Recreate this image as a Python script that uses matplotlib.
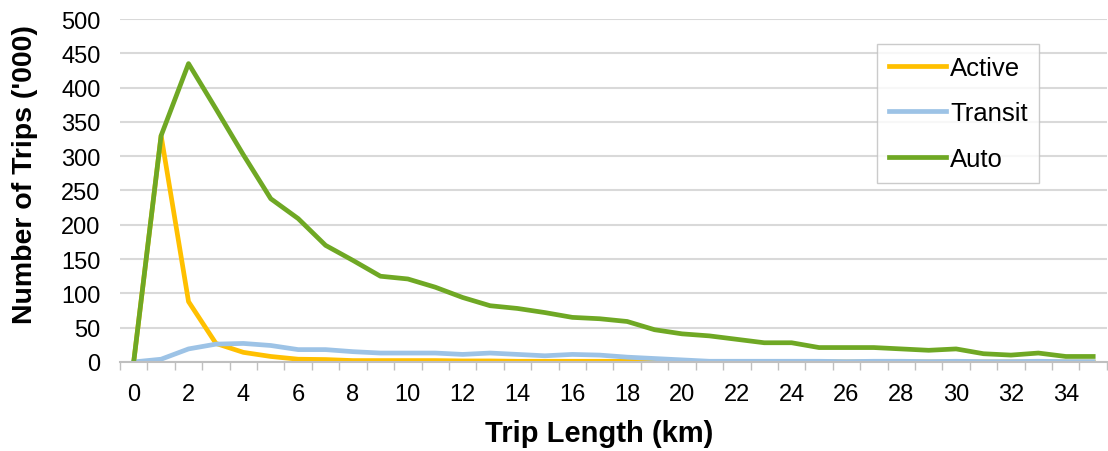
import numpy as np
import matplotlib.pyplot as plt
from matplotlib.ticker import MultipleLocator

# trip length bins (km)
trip_km = list(range(0, 36))

# number of trips ('000) by mode
active = [0, 330, 88, 27, 14, 8, 4, 3.5, 2, 2, 2, 2, 1.5, 1.5, 1, 1, 1, 1, 1, 1,
          1, 0, 0, 0, 0, 0, 0, 0, 0, 0, 0, 0, 0, 0, 0, 0]
transit = [0, 4, 19, 26, 27, 24, 18, 18, 15, 13, 13, 13, 11, 13, 11, 9, 11, 10, 7, 5,
           3, 1, 1, 1, 1, 1, 0.5, 1, 1, 0.5, 1, 0.5, 0.5, 1, 0.5, 0.5]
auto = [0, 330, 435, 369, 302, 238, 209, 170, 148, 125, 121, 109, 94, 82, 78, 72, 65,
        63, 59, 47, 41, 38, 33, 28, 28, 21, 21, 21, 19, 17, 19, 12, 10, 13, 8, 8]

plt.rcParams['font.family'] = ['Liberation Sans', 'DejaVu Sans']

fig = plt.figure(figsize=(11.08, 4.52), dpi=100)
ax = fig.add_axes([0.1083, 0.197, 0.8907, 0.7587])

ax.plot(trip_km, active, color='#FFC000', lw=3.4, label='Active', solid_joinstyle='round')
ax.plot(trip_km, transit, color='#9DC3E6', lw=3.4, label='Transit', solid_joinstyle='round')
ax.plot(trip_km, auto, color='#6FA824', lw=3.4, label='Auto', solid_joinstyle='round')

ax.set_xlim(-0.5, 35.5)
ax.set_ylim(0, 500)
ax.yaxis.set_major_locator(MultipleLocator(50))
ax.set_xticks(range(0, 35, 2))
ax.xaxis.set_minor_locator(MultipleLocator(1, offset=0.5))
ax.tick_params(axis='x', which='major', length=0, labelsize=17, pad=15)
ax.tick_params(axis='x', which='minor', length=6, color='#bfbfbf', width=1)
ax.tick_params(axis='y', length=0, labelsize=17, pad=14)
ax.grid(axis='y', color='#d9d9d9', lw=1.5)
ax.set_axisbelow(True)
for s in ['top', 'right', 'left']:
    ax.spines[s].set_visible(False)
ax.spines['bottom'].set_color('#bfbfbf')
ax.spines['bottom'].set_linewidth(1.5)

ax.set_xlabel('Trip Length (km)', fontsize=21, fontweight='bold')
ax.set_ylabel("Number of Trips ('000)", fontsize=20.5, fontweight='bold')
ax.xaxis.set_label_coords(0.486, -0.165)
ax.yaxis.set_label_coords(-0.083, 0.55)

leg = ax.legend(loc='upper left', bbox_to_anchor=(0.767, 0.927), borderaxespad=0,
                fontsize=18.5, frameon=True, fancybox=False, handlelength=2.25,
                handletextpad=0.15, labelspacing=0.85, borderpad=0.45,
                edgecolor='#bfbfbf')
leg.get_frame().set_linewidth(1)

fig.savefig('out.png', dpi=100)
